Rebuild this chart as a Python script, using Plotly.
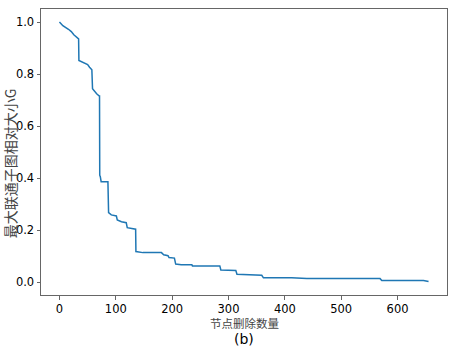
import plotly.graph_objects as go

# Vertices of the curve (removed nodes vs. relative size of largest connected component)
removed_nodes = [0, 6, 16, 21, 25.5, 30, 34, 34.5, 38.6, 50, 53.4, 57.5, 58.7, 62, 66, 70.6,
                 71.1, 71.5, 72.5, 74, 86, 87.2, 92, 101, 102.6, 110, 118.5, 120.3, 127.4,
                 135.2, 135.7, 148, 181, 185, 192.7, 194.4, 204, 206.3, 216, 235, 236,
                 284.6, 286.4, 313, 315, 359, 362, 412, 439, 569, 572, 646, 655]
relative_size = [1.0, 0.986, 0.972, 0.963, 0.951, 0.944, 0.935, 0.852, 0.847, 0.836, 0.826,
                 0.816, 0.743, 0.733, 0.724, 0.715, 0.715, 0.411, 0.405, 0.386, 0.386, 0.267,
                 0.258, 0.254, 0.239, 0.232, 0.228, 0.209, 0.207, 0.203, 0.117, 0.113, 0.113,
                 0.105, 0.101, 0.094, 0.092, 0.069, 0.066, 0.066, 0.062, 0.062, 0.046, 0.044,
                 0.030, 0.026, 0.016, 0.016, 0.013, 0.013, 0.006, 0.006, 0.002]

x_ticks = [0, 100, 200, 300, 400, 500, 600]
y_ticks = [0.0, 0.2, 0.4, 0.6, 0.8, 1.0]
x_label = "节点删除数量"
y_label = "最大联通子图相对大小G"
caption = "(b)"

fig = go.Figure()
fig.add_trace(go.Scatter(x=removed_nodes, y=relative_size, mode="lines",
                         line=dict(color="#1f77b4", width=1.5), showlegend=False))

axis_common = dict(showgrid=False, zeroline=False, showline=True, mirror=True,
                   linecolor="#666666", linewidth=1, ticks="outside", ticklen=3.5,
                   tickcolor="#666666", tickwidth=1,
                   tickfont=dict(family="DejaVu Sans", size=11.5, color="black"))

fig.update_xaxes(range=[-32.75, 687.75], tickvals=x_ticks,
                 ticktext=[str(v) for v in x_ticks], **axis_common)
fig.update_yaxes(range=[-0.05, 1.05], tickvals=y_ticks,
                 ticktext=[f"{v:.1f}" for v in y_ticks], **axis_common)

fig.update_layout(
    width=452, height=349,
    margin=dict(l=41, r=5, t=9, b=54),
    paper_bgcolor="white", plot_bgcolor="white",
    annotations=[
        dict(text=x_label, x=0.5, y=-0.098, xref="paper", yref="paper",
             showarrow=False, xanchor="center", yanchor="middle",
             font=dict(family="Noto Sans CJK SC", size=11.5, color="#444444")),
        dict(text=caption, x=0.5, y=-0.153, xref="paper", yref="paper",
             showarrow=False, xanchor="center", yanchor="middle",
             font=dict(family="DejaVu Sans", size=14, color="black")),
        dict(text=y_label, x=-0.076, y=0.4615, xref="paper", yref="paper",
             showarrow=False, xanchor="center", yanchor="middle", textangle=-90,
             font=dict(family="Noto Sans CJK SC", size=14, color="#444444")),
    ],
)

fig.write_html("out.html", config={"displayModeBar": False},
               post_script="document.body.style.margin='0';document.body.style.padding='0';")
